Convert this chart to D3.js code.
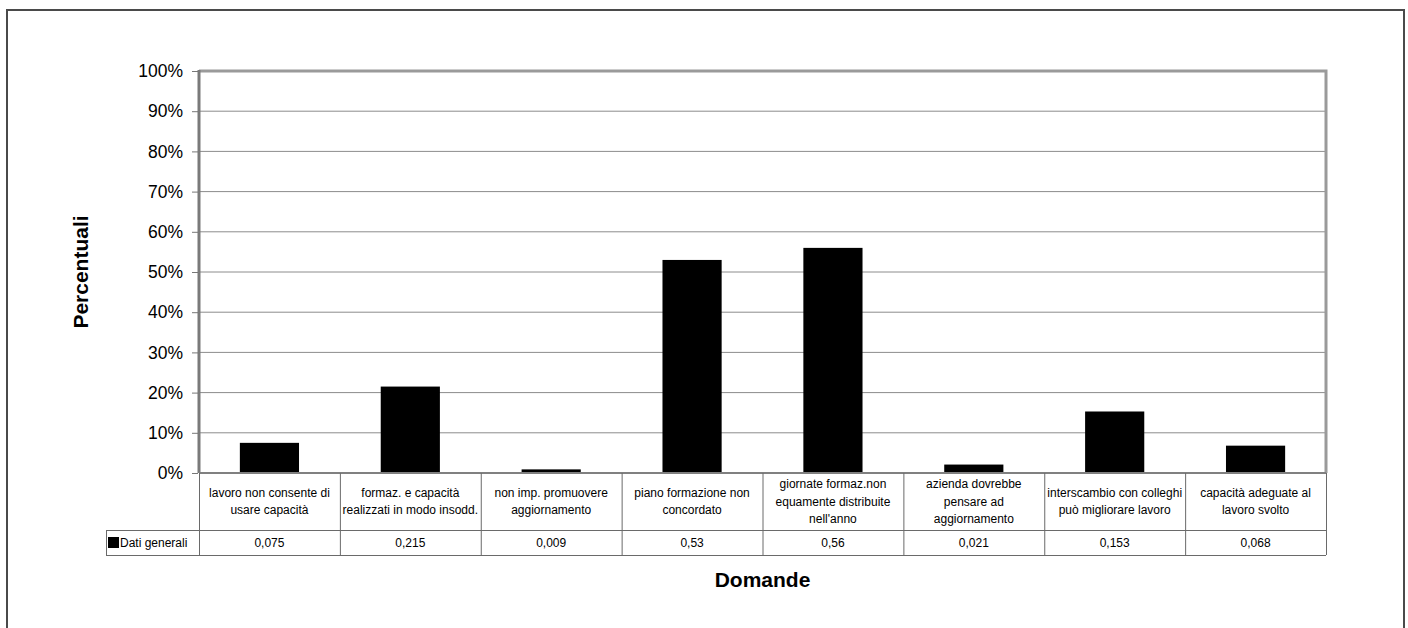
<!DOCTYPE html>
<html>
<head>
<meta charset="utf-8">
<script src="https://cdn.jsdelivr.net/npm/d3@7"></script>
<style>
  html, body { margin: 0; padding: 0; background: #fff; }
  svg { display: block; font-family: "Liberation Sans", Arial, Helvetica, sans-serif; }
</style>
</head>
<body>
<svg id="chart" width="1408" height="628"></svg>
<script>
// Question labels (each line of a cell is a separate entry)
const categories = [
  ["lavoro non consente di", "usare capacità"],
  ["formaz. e capacità", "realizzati in modo insodd."],
  ["non imp. promuovere", "aggiornamento"],
  ["piano formazione non", "concordato"],
  ["giornate formaz.non", "equamente distribuite", "nell'anno"],
  ["azienda dovrebbe", "pensare ad", "aggiornamento"],
  ["interscambio con colleghi", "può migliorare lavoro"],
  ["capacità adeguate al", "lavoro svolto"]
];
const seriesName = "Dati generali";
const values = [0.075, 0.215, 0.009, 0.53, 0.56, 0.021, 0.153, 0.068];
const valueLabels = ["0,075", "0,215", "0,009", "0,53", "0,56", "0,021", "0,153", "0,068"];
const yTicks = [0, 0.1, 0.2, 0.3, 0.4, 0.5, 0.6, 0.7, 0.8, 0.9, 1];

const svg = d3.select("#chart");

// Outer frame (its lower edge runs past the page)
svg.append("path")
  .attr("d", "M7,640 V10 H1404 V640")
  .attr("fill", "none").attr("stroke", "#4a4a4a").attr("stroke-width", 2);

const plot = { left: 199, right: 1326, top: 71, bottom: 473 };
const ids = d3.range(values.length);

const y = d3.scaleLinear().domain([0, 1]).range([plot.bottom, plot.top]);
const col = d3.scaleBand().domain(ids).range([plot.left, plot.right]).padding(0);
const x = d3.scaleBand().domain(ids).range([plot.left, plot.right])
  .paddingInner(0.58).paddingOuter(0.29);

// Gridlines
svg.append("g").selectAll("line")
  .data(yTicks.filter(t => t > 0 && t < 1))
  .join("line")
  .attr("x1", plot.left).attr("x2", plot.right)
  .attr("y1", d => y(d)).attr("y2", d => y(d))
  .attr("stroke", "#8c8c8c").attr("stroke-width", 1);

// Bars
svg.append("g").selectAll("rect")
  .data(values)
  .join("rect")
  .attr("x", (d, i) => x(i))
  .attr("width", x.bandwidth())
  .attr("y", d => y(d))
  .attr("height", d => y(0) - y(d))
  .attr("fill", "#000");

// Plot border
svg.append("path")
  .attr("d", `M${plot.left},${plot.top} H${plot.right} V${plot.bottom}`)
  .attr("fill", "none").attr("stroke", "#9a9a9a").attr("stroke-width", 3);
svg.append("line")
  .attr("x1", plot.left).attr("x2", plot.left)
  .attr("y1", plot.top - 1).attr("y2", plot.bottom)
  .attr("stroke", "#7a7a7a").attr("stroke-width", 3);

// Y axis
const yAxis = d3.axisLeft(y)
  .tickValues(yTicks)
  .tickFormat(d => Math.round(d * 100) + "%")
  .tickSize(6).tickPadding(9);
const gy = svg.append("g").attr("transform", `translate(${plot.left - 1},0)`).call(yAxis);
gy.select(".domain").remove();
gy.selectAll(".tick line").attr("stroke", "#777");
gy.selectAll(".tick text")
  .attr("font-size", "17.5px").attr("fill", "#000")
  .attr("font-family", "Liberation Sans, Arial, sans-serif");

// Baseline
svg.append("line")
  .attr("x1", plot.left).attr("x2", plot.right)
  .attr("y1", plot.bottom).attr("y2", plot.bottom)
  .attr("stroke", "#808080").attr("stroke-width", 2);

// Data table under the chart
const table = { catBottom: 530, rowBottom: 555, legendLeft: 106 };
const tg = svg.append("g").attr("stroke", "#6a6a6a").attr("stroke-width", 1);

// vertical dividers
tg.selectAll("line.v")
  .data(ids.concat([values.length]))
  .join("line").attr("class", "v")
  .attr("x1", i => i < values.length ? col(i) + 0.5 : plot.right + 0.5)
  .attr("x2", i => i < values.length ? col(i) + 0.5 : plot.right + 0.5)
  .attr("y1", plot.bottom).attr("y2", table.rowBottom);

// horizontal rules
tg.append("line")
  .attr("x1", table.legendLeft).attr("x2", plot.right)
  .attr("y1", table.catBottom + 0.5).attr("y2", table.catBottom + 0.5);
tg.append("line")
  .attr("x1", table.legendLeft).attr("x2", plot.right)
  .attr("y1", table.rowBottom + 0.5).attr("y2", table.rowBottom + 0.5);
tg.append("line")
  .attr("x1", table.legendLeft + 0.5).attr("x2", table.legendLeft + 0.5)
  .attr("y1", table.catBottom).attr("y2", table.rowBottom);

// category labels
const lineH = 17.5;
const catMid = (plot.bottom + table.catBottom) / 2;
svg.append("g").selectAll("text")
  .data(categories)
  .join("text")
  .attr("text-anchor", "middle")
  .attr("font-size", "12px")
  .attr("fill", "#000")
  .attr("transform", (d, i) => `translate(${col(i) + col.bandwidth() / 2},${catMid - (d.length - 1) * lineH / 2 + 4})`)
  .selectAll("tspan")
  .data(d => d)
  .join("tspan")
  .attr("x", 0)
  .attr("y", (d, j) => j * lineH)
  .text(d => d);

// value row
const rowMid = (table.catBottom + table.rowBottom) / 2;
svg.append("g").selectAll("text")
  .data(valueLabels)
  .join("text")
  .attr("x", (d, i) => col(i) + col.bandwidth() / 2)
  .attr("y", rowMid + 4)
  .attr("text-anchor", "middle")
  .attr("font-size", "12px")
  .attr("fill", "#000")
  .text(d => d);

// legend key in the table
svg.append("rect")
  .attr("x", table.legendLeft + 2).attr("y", rowMid - 5.5)
  .attr("width", 11).attr("height", 11).attr("fill", "#000");
svg.append("text")
  .attr("x", table.legendLeft + 14).attr("y", rowMid + 4)
  .attr("font-size", "12px").attr("fill", "#000")
  .text(seriesName);

// Axis titles
svg.append("text")
  .attr("transform", `translate(${88},${(plot.top + plot.bottom) / 2}) rotate(-90)`)
  .attr("text-anchor", "middle")
  .attr("font-size", "21px").attr("font-weight", "bold").attr("fill", "#000")
  .text("Percentuali");

svg.append("text")
  .attr("x", (plot.left + plot.right) / 2).attr("y", 587)
  .attr("text-anchor", "middle")
  .attr("font-size", "21px").attr("font-weight", "bold").attr("fill", "#000")
  .text("Domande");
</script>
</body>
</html>
